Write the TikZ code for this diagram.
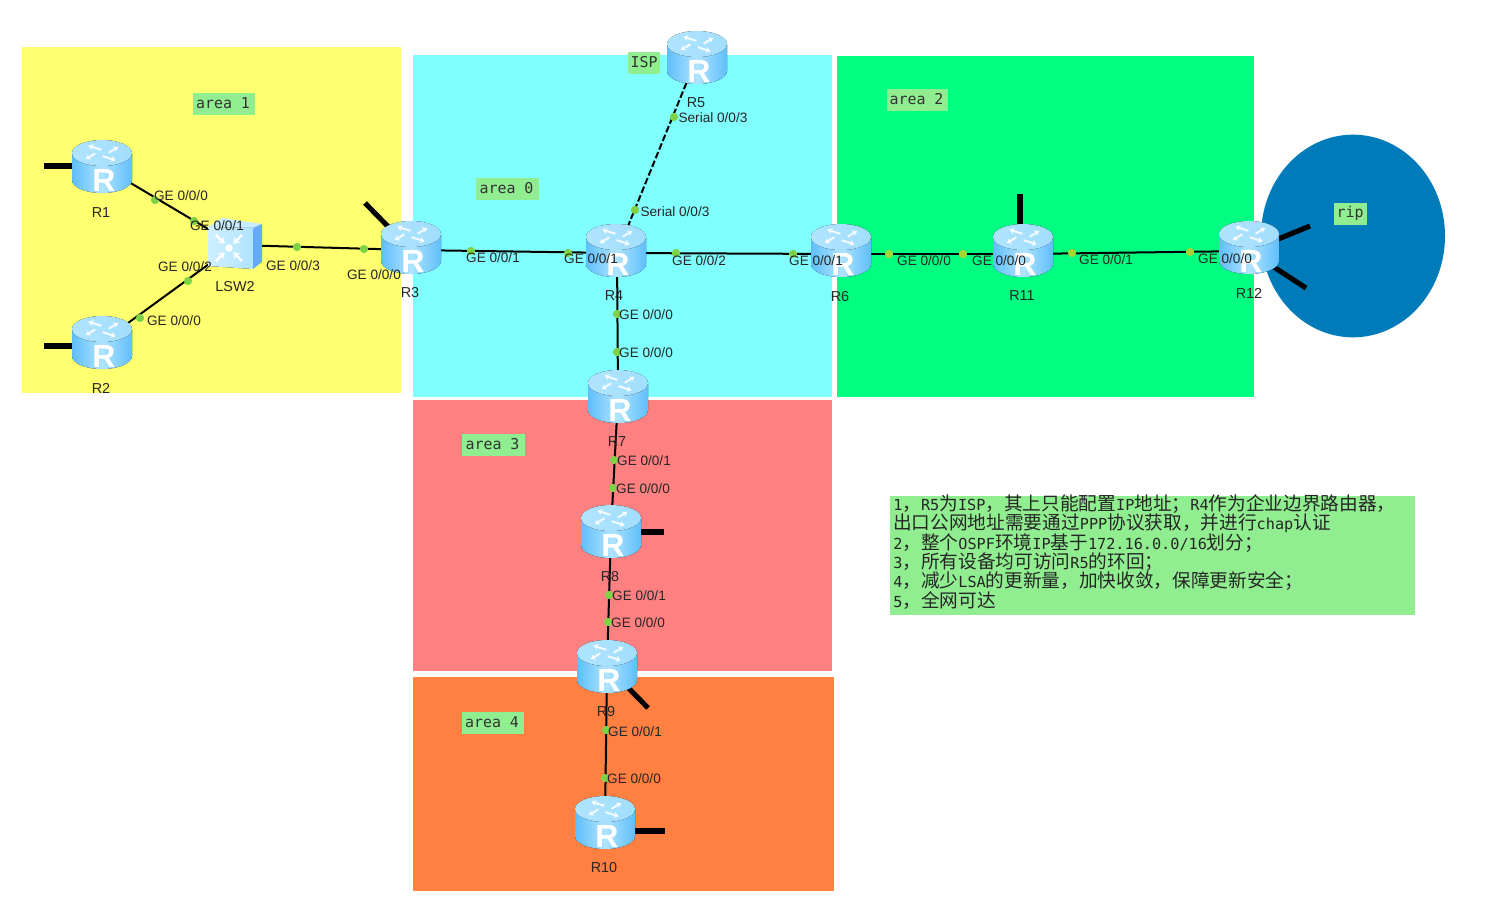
\documentclass[tikz,border=0pt]{standalone}
\usepackage{fontspec}
\setmainfont{Liberation Sans}
\newfontfamily\cjkf{Noto Sans CJK SC}
\newfontfamily\monof{DejaVu Sans Mono}
\usetikzlibrary{arrows.meta,calc}
\definecolor{areay}{RGB}{255,255,112}
\definecolor{areac}{RGB}{128,255,255}
\definecolor{areag}{RGB}{0,255,128}
\definecolor{arear}{RGB}{255,128,128}
\definecolor{areao}{RGB}{255,128,64}
\definecolor{ripblue}{RGB}{0,123,186}
\definecolor{lgreen}{RGB}{144,238,144}
\definecolor{dotg}{RGB}{125,210,70}
\definecolor{doty}{RGB}{165,215,50}
\definecolor{rdark}{RGB}{95,190,250}
\definecolor{rlight}{RGB}{175,228,255}
\definecolor{rtop}{RGB}{190,235,255}
\definecolor{swside}{RGB}{100,170,255}
\newcommand{\routericon}[2]{%
\begin{scope}[shift={(#1,#2)}]
\fill[left color=rdark,right color=rdark,middle color=rlight]
 (-30,-13) -- (-30,14) arc[start angle=180,end angle=360,x radius=22.5pt,y radius=9.75pt] -- (30,-13) -- cycle;
\fill[left color=rtop!85!rdark,right color=rtop!70!rdark] (0,-13) ellipse[x radius=22.5pt,y radius=9.75pt];
\foreach \a in {40,130,220,310}{
 \draw[white,line width=1.5pt,-{Stealth[length=3.6pt,width=4.6pt]},opacity=.85]
  ($(0,-13)+(\a-35:5pt and 2.4pt)$) -- ($(0,-13)+(\a:16pt and 7.2pt)$);}
\node[white,font=\bfseries\fontsize{24}{24}\selectfont] at (2,14) {R};
\end{scope}}
\newcommand{\mm}[1]{{\monof\fontsize{11.4}{14.6}\selectfont #1}}
\tikzset{
 pt/.style={minimum width=45pt,minimum height=39pt,inner sep=0pt},
 link/.style={line width=1.5pt,draw=black},
 stub/.style={line width=3.8pt,draw=black},
 dotn/.style={circle,fill=dotg,inner sep=0pt,minimum size=6.2pt},
 doty/.style={circle,fill=doty,inner sep=0pt,minimum size=6.2pt},
 lab/.style={font=\fontsize{10.2}{11}\selectfont,text=black!85,inner sep=0pt},
 nm/.style={font=\fontsize{10.8}{12}\selectfont,text=black!85,inner sep=0pt},
 tag/.style={fill=lgreen,inner sep=0pt,minimum height=16.5pt},
 tagt/.style={font=\monof\fontsize{11.2}{12}\selectfont,text=black!80,inner sep=0pt},
}
\begin{document}
\begin{tikzpicture}[x=0.75pt,y=-0.75pt]
\useasboundingbox (0,0) rectangle (1512,897);
\fill[white] (0,0) rectangle (1512,897);
% areas
\fill[areay] (22,47) rectangle (401,393);
\fill[areac] (413,55) rectangle (832,397);
\fill[areag] (837,56) rectangle (1254,397);
\fill[arear] (413,400) rectangle (832,671);
\fill[areao] (413,677) rectangle (834,891);
\fill[ripblue] (1353,236) ellipse[x radius=69pt,y radius=76pt];
% anchor nodes
\node[pt] (R1) at (102,166) {};
\node[pt] (R2) at (102,342) {};
\node[pt] (R3) at (411,250) {};
\node[pt] (R4) at (617,253) {};
\node[pt] (R5) at (697,57) {};
\node[pt] (R6) at (841,254) {};
\node[pt] (R7) at (618,396) {};
\node[pt] (R8) at (611,531) {};
\node[pt] (R9) at (607,666) {};
\node[pt] (R10) at (605,822) {};
\node[pt] (R11) at (1023,254) {};
\node[pt] (R12) at (1249,251) {};
\node[minimum width=40pt,minimum height=39pt,inner sep=0pt] (LSW2) at (235,245) {};
% free ends of stubs
\coordinate (s1) at (44,166);
\coordinate (s2) at (44,346);
\coordinate (s3) at (365,203);
\coordinate (s8) at (664,532);
\coordinate (s9) at (648,708);
\coordinate (s10) at (665,831);
\coordinate (s11) at (1020,194);
\coordinate (s12a) at (1310,226);
\coordinate (s12b) at (1306,288);
\draw[stub] (R1.center|-s1) -- (s1);
\draw[stub] (R2.center|-s2) -- (s2);
\draw[stub] (R3.center) -- (s3);
\draw[stub] (R8.center|-s8) -- (s8);
\draw[stub] (R9.center) -- (s9);
\draw[stub] (R10.center|-s10) -- (s10);
\draw[stub] (R11.center-|s11) -- (s11);
\draw[stub] (R12.center) -- (s12a);
\draw[stub] (R12.center) -- (s12b);
% connectors
\draw[link] (R1.center) -- (LSW2.center);
\draw[link] (R2.center) -- (LSW2.center);
\draw[link] (LSW2.center) -- (R3.center);
\draw[link] (R3.center) -- (R4.center);
\draw[link] (R4.center) -- (R6.center);
\draw[link] (R6.center) -- (R11.center);
\draw[link] (R11.center) -- (R12.center);
\draw[link] (R4.center) -- (R7.center);
\draw[link] (R7.center) -- (R8.center);
\draw[link] (R8.center) -- (R9.center);
\draw[link] (R9.center) -- (R10.center);
\draw[link,dash pattern=on 5pt off 2pt] (R5.center) -- (R4.center);
% icons
\routericon{102}{166}
\routericon{102}{342}
\routericon{411}{247}
\routericon{616}{250}
\routericon{697}{57}
\routericon{841}{250}
\routericon{618}{396}
\routericon{611}{531}
\routericon{607}{666}
\routericon{605}{822}
\routericon{1023}{250}
\routericon{1249}{247}
% switch
\fill[rlight!70!white] (208,227) -- (222,218) -- (262,224) -- (253,228) -- cycle;
\fill[left color=rlight!60!white,right color=rlight] (208,227) -- (253,228) -- (253,269) -- (208,266) -- cycle;
\fill[swside] (253,228) -- (262,224) -- (262,262) -- (253,269) -- cycle;
\foreach \a in {45,135,225,315}{
 \draw[white,line width=1.8pt,-{Stealth[length=4.5pt,width=6pt]}] ($(229,248)+(\a:14pt)$) -- ($(229,248)+(\a:4.5pt)$);}
\fill[white] (229,248) circle (2.8pt);
% dots
\foreach \p in {(155,200),(194,221),(188,281),(297,247),(140,318),(364,249),(471,251),(568,253),(676,253),(793,254),(617,314),(617,352),(614,460),(613,488),(609,595),(608,622),(606,730),(605,778),(674,117),(635,210)}
 \node[dotn] at \p {};
\foreach \p in {(889,254),(963,254),(1072,253),(1190,252)}
 \node[doty] at \p {};
% port labels
\foreach \x/\y/\t in {181/196/0,217/226/1,185/267/2,293/266/3,174/321/0,374/275/0,493/258/1,591/259/1,699/261/2,816/261/1,924/261/0,999/261/0,1106/260/1,1225/259/0,646/315/0,646/353/0,644/461/1,643/489/0,639/596/1,638/623/0,635/732/1,634/779/0}
 \node[lab] at (\x,\y) {GE 0/0/\t};
\node[lab] at (713,118) {Serial 0/0/3};
\node[lab] at (675,212) {Serial 0/0/3};
% device names
\foreach \x/\y/\t in {101/213/R1,101/388/R2,410/293/R3,614/296/R4,696/103/R5,840/297/R6,617/442/R7,610/577/R8,606/712/R9,604/868/R10,1022/296/R11,1249/293/R12,235/287/LSW2}
 \node[nm] at (\x,\y) {\t};
% tags
\node[tag,minimum width=46.5pt] at (224,104) {}; \node[tagt] (t1) at (223,103) {area 1};
\node[tag,minimum width=47pt] at (507.5,189) {}; \node[tagt] (t0) at (506.5,188) {area 0};
\node[tag,minimum width=24pt] at (644,62.5) {}; \node[tagt] (tI) at (644,62) {ISP};
\node[tag,minimum width=46pt] at (917.5,100) {}; \node[tagt] (t2) at (916.5,99) {area 2};
\node[tag,minimum width=47pt] at (493.5,445) {}; \node[tagt] (t3) at (492.5,444) {area 3};
\node[tag,minimum width=46.5pt] at (493,723) {}; \node[tagt] (t4) at (492,722) {area 4};
\node[tag,minimum width=25pt] at (1350.5,214) {}; \node[tagt] (tr) at (1350,213) {rip};
% notes
\fill[lgreen] (890,496) rectangle (1415,615);
\node[anchor=north west,inner sep=0pt,align=left,text=black!85,font=\cjkf\fontsize{14}{14.6}\selectfont] (note) at (893,494) {%
\mm{1}，\mm{R5}为\mm{ISP}，其上只能配置\mm{IP}地址；\mm{R4}作为企业边界路由器，\\
出口公网地址需要通过\mm{PPP}协议获取，并进行\mm{chap}认证\\
\mm{2}，整个\mm{OSPF}环境\mm{IP}基于\mm{172.16.0.0/16}划分；\\
\mm{3}，所有设备均可访问\mm{R5}的环回；\\
\mm{4}，减少\mm{LSA}的更新量，加快收敛，保障更新安全；\\
\mm{5}，全网可达};
\end{tikzpicture}
\end{document}
